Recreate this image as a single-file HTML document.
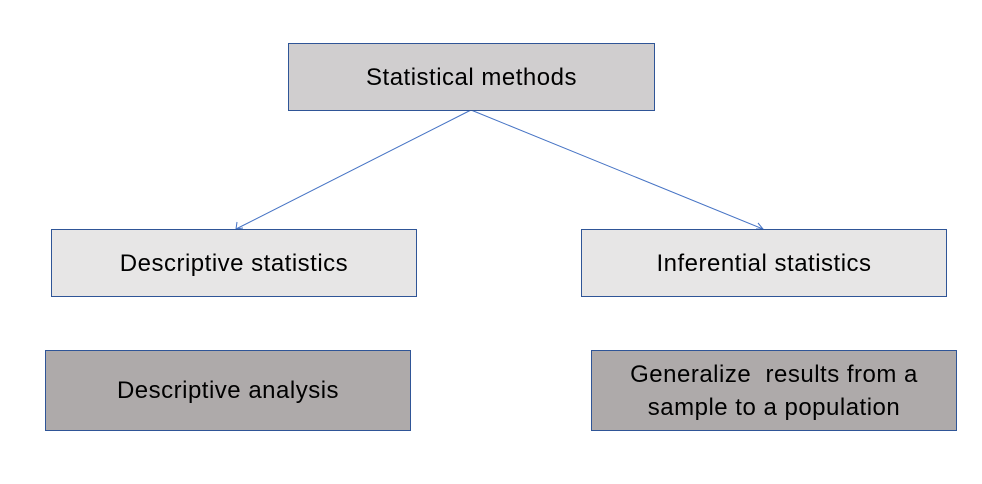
<!DOCTYPE html>
<html><head><style>
body{margin:0;width:982px;height:484px;background:#fff;position:relative;overflow:hidden;font-family:"Liberation Sans",sans-serif;}
.b{position:absolute;box-sizing:border-box;border:1px solid #2f5597;display:flex;align-items:center;justify-content:center;text-align:center;font-size:24px;letter-spacing:0.5px;color:#000;line-height:33px;}
</style></head><body>
<svg width="982" height="484" style="position:absolute;left:0;top:0">
<g stroke="#4472c4" stroke-width="1" fill="none">
<line x1="471" y1="110" x2="236" y2="229"/>
<polyline points="237,222 236,229 243,228"/>
<line x1="471" y1="110" x2="763" y2="229"/>
<polyline points="756,229 763,229 758,223"/>
</g></svg>
<div class="b" style="left:288px;top:43px;width:367px;height:68px;background:#d0cecf">Statistical methods</div>
<div class="b" style="left:51px;top:229px;width:366px;height:68px;background:#e7e6e6">Descriptive statistics</div>
<div class="b" style="left:581px;top:229px;width:366px;height:68px;background:#e7e6e6">Inferential statistics</div>
<div class="b" style="left:45px;top:350px;width:366px;height:81px;background:#aeaaaa">Descriptive analysis</div>
<div class="b" style="left:591px;top:350px;width:366px;height:81px;background:#aeaaaa">Generalize&nbsp; results from a<br>sample to a population</div>
</body></html>
